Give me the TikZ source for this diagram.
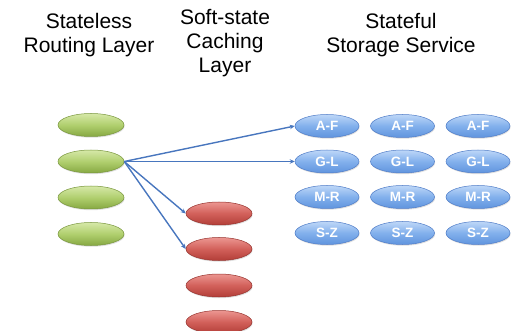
\documentclass[tikz,border=0pt]{standalone}
\usepackage{fontspec}
\setmainfont{Liberation Sans}
\usetikzlibrary{arrows.meta,shadows,shapes.geometric}
\definecolor{linkblue}{RGB}{72,118,190}
\tikzset{
  pill/.style={ellipse, minimum width=66pt, minimum height=23pt, inner sep=0pt,
    line width=0.5pt, drop shadow={shadow xshift=0.6pt, shadow yshift=-1.2pt, opacity=0.25}},
  router/.style={pill, draw={rgb,255:red,120;green,150;blue,60}, top color={rgb,255:red,214;green,232;blue,168},
    bottom color={rgb,255:red,134;green,168;blue,66}, middle color={rgb,255:red,176;green,207;blue,110}},
  cache/.style={pill, draw={rgb,255:red,150;green,50;blue,45}, top color={rgb,255:red,236;green,150;blue,145},
    bottom color={rgb,255:red,178;green,62;blue,56}, middle color={rgb,255:red,210;green,96;blue,90}},
  store/.style={pill, minimum width=64pt, draw={rgb,255:red,80;green,125;blue,200},
    top color={rgb,255:red,190;green,215;blue,248}, bottom color={rgb,255:red,96;green,148;blue,222},
    middle color={rgb,255:red,130;green,176;blue,236},
    text=white, font=\bfseries\fontsize{13.5}{15}\selectfont},
  heading/.style={align=center, font=\fontsize{21}{24}\selectfont, anchor=base},
  link/.style={draw=linkblue, line width=1.4pt, -{Stealth[length=5pt,width=4.5pt]}}
}
\begin{document}
\begin{tikzpicture}[x=1pt,y=-1pt]
\useasboundingbox (0,0) rectangle (522,331);

% column headings (placed by the baseline of their last line)
\node[heading] (hroute) at (89,53) {Stateless\\Routing Layer};
\node[heading] (hcache) at (225,73) {Soft-state\\Caching\\Layer};
\node[heading] (hstore) at (401,53) {Stateful\\Storage Service};

% stateless routers
\foreach \i/\y in {1/125,2/161.5,3/197.5,4/234}
  \node[router] (r\i) at (91,\y) {};

% soft-state caches
\foreach \i/\y in {1/213.5,2/249,3/285.5,4/322}
  \node[cache] (c\i) at (219,\y) {};

% storage partitions
\foreach \col/\x in {1/327,2/402.5,3/478}
  \foreach \row/\y/\lab in {1/126/A-F,2/161.5/G-L,3/197/M-R,4/233/S-Z}
    \node[store] (s\col\row) at (\x,\y) {\lab};

% request paths
\draw[link] (r2.east) -- (s11.west);
\draw[link] (r2.east) -- (s12.west);
\draw[link] (r2.east) -- (c1.west);
\draw[link] (r2.east) -- (c2.west);
\end{tikzpicture}
\end{document}
